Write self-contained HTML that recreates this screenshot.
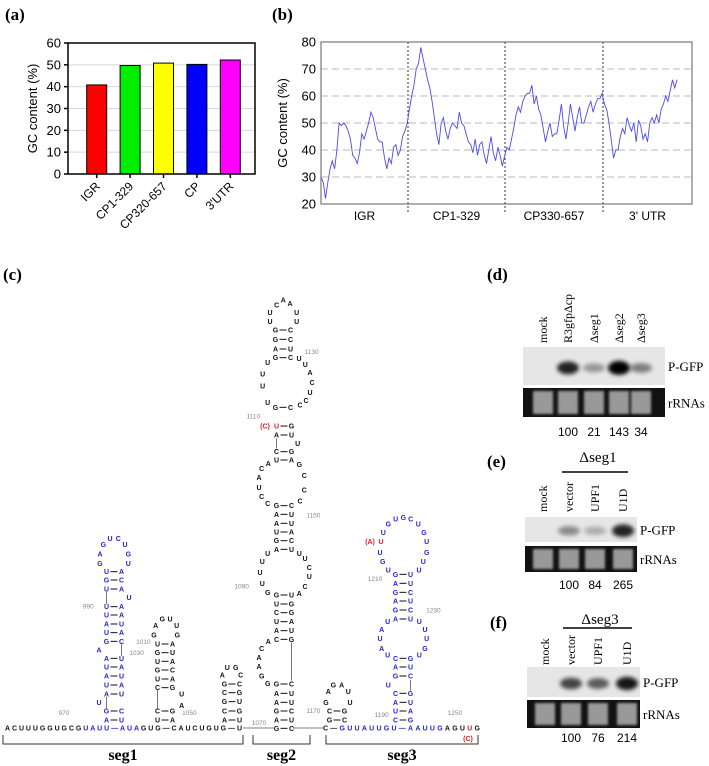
<!DOCTYPE html>
<html><head><meta charset="utf-8">
<style>
html,body{margin:0;padding:0;background:#fff;}
svg{display:block;}
.sans{font-family:"Liberation Sans",sans-serif;}
.serif{font-family:"Liberation Serif",serif;}
.nt{font-family:"Liberation Sans",sans-serif;font-size:7px;font-weight:bold;}
.num{font-family:"Liberation Sans",sans-serif;font-size:6.5px;fill:#888;}
</style></head>
<body>
<svg id="fig" width="709" height="766" viewBox="0 0 709 766" xmlns="http://www.w3.org/2000/svg">
<defs>
<filter id="blur2" x="-50%" y="-50%" width="200%" height="200%"><feGaussianBlur stdDeviation="2"/></filter>
<filter id="blur1" x="-50%" y="-50%" width="200%" height="200%"><feGaussianBlur stdDeviation="1.2"/></filter>
</defs>
<text x="5" y="20" class="serif" font-size="17" font-weight="bold">(a)</text>
<text x="272" y="20" class="serif" font-size="17" font-weight="bold">(b)</text>
<text x="3" y="280" class="serif" font-size="17" font-weight="bold">(c)</text>
<text x="487" y="280" class="serif" font-size="17" font-weight="bold">(d)</text>
<text x="487" y="467" class="serif" font-size="17" font-weight="bold">(e)</text>
<text x="490" y="628" class="serif" font-size="17" font-weight="bold">(f)</text>
<g id="pa"></g>
<g id="pb"></g>
<g id="pc"></g>
<g id="pd"></g>
</svg>
<script>
// ---- Panel (a) data ----
const aCategories = ['IGR','CP1-329','CP320-657','CP',"3'UTR"];
const aValues = [40.8, 49.7, 50.8, 50.2, 52.2];
const aTicks = [0,10,20,30,40,50,60];
// ---- Panel (b) data ----
const bSegments = ['IGR','CP1-329','CP330-657',"3' UTR"];
const bTicks = [20,30,40,50,60,70,80];
const bGrid = [30,40,50,60,70];
const bValues = [30,28,22,28,33,36,33,40,50,49,50,49,47,44,38,37,35,39,46,44,47,50,54,52,48,44,43,43,37,33,37,35,41,42,38,40,45,47,50,55,60,64,70,72,78,74,70,66,63,58,52,46,42,50,52,47,44,48,50,49,48,54,50,49,46,43,42,39,44,38,42,43,38,35,40,45,39,36,41,38,34,38,41,40,44,48,53,56,54,58,60,61,61,64,57,60,55,53,48,43,47,50,45,46,46,51,57,49,44,50,57,52,47,52,56,50,50,53,56,58,54,57,59,59,61,57,55,50,44,37,40,40,45,48,46,52,49,47,50,43,51,49,44,46,43,50,52,50,53,50,55,57,60,58,62,66,63,66];
// ---- Blot data ----
const dLanes = ['mock','R3gfpΔcp','Δseg1','Δseg2','Δseg3'];
const dBand = [0,0.85,0.35,1,0.45];
const dNums = ['','100','21','143','34'];
const eLanes = ['mock','vector','UPF1','U1D'];
const eBand = [0,0.4,0.25,0.85];
const eNums = ['','100','84','265'];
const fLanes = ['mock','vector','UPF1','U1D'];
const fBand = [0,0.7,0.6,0.9];
const fNums = ['','100','76','214'];

const NS='http://www.w3.org/2000/svg';
function mk(tag, attrs, parent, name){
  const e=document.createElementNS(NS,tag);
  for(const k in attrs) e.setAttribute(k,attrs[k]);
  
  
  parent.appendChild(e); return e;
}
function txt(parent,x,y,s,attrs,name){const e=mk('text',Object.assign({x:x,y:y},attrs||{}),parent,name);e.textContent=s;return e;}

// ===== Panel a =====
(function(){
const g=document.getElementById('pa');
const x0=68,x1=255,yTop=43,yBot=174;
const yA=v=>yBot-(v/60)*(yBot-yTop);
const step=(x1-x0-20)/aCategories.length;
const xA=i=>x0+12+step*(i+0.5);
const barColors=['#ff0000','#00ee00','#ffff00','#0000ff','#ff00ff'];
aTicks.forEach(t=>{
  if(t>0&&t<60) mk('line',{x1:x0,x2:x1,y1:yA(t),y2:yA(t),stroke:'#d8d8d8','stroke-width':1},g,'gridline');
  mk('line',{x1:x0-4,x2:x0,y1:yA(t),y2:yA(t),stroke:'#000','stroke-width':1.5},g,'y-tick');
  txt(g,x0-7,yA(t)+4.5,String(t),{'text-anchor':'end','font-size':13,class:'sans'},'y-tick-label');
});
aValues.forEach((v,i)=>{
  mk('rect',{x:xA(i)-10,y:yA(v),width:20,height:yBot-yA(v),fill:barColors[i],stroke:'#000','stroke-width':1},g,'bar-'+aCategories[i].toLowerCase().replace(/[^a-z0-9]/g,''));
  mk('line',{x1:xA(i),x2:xA(i),y1:yBot,y2:yBot+4,stroke:'#000','stroke-width':1.5},g,'x-tick');
  txt(g,0,0,aCategories[i],{'text-anchor':'end','font-size':12,class:'sans',transform:`translate(${xA(i)+4},${yBot+13}) rotate(-45)`},'x-tick-label');
});
mk('rect',{x:x0,y:yTop,width:x1-x0,height:yBot-yTop,fill:'none',stroke:'#000','stroke-width':1.5},g,'plot-frame');
txt(g,0,0,'GC content (%)',{'text-anchor':'middle','font-size':13,class:'sans',transform:`translate(37,${(yTop+yBot)/2}) rotate(-90)`},'y-axis-title');
})();

// ===== Panel b =====
(function(){
const g=document.getElementById('pb');
const x0=321,x1=692,yTop=42,yBot=204;
const yB=v=>yBot-(v-20)/60*(yBot-yTop);
const xB=i=>x0+i*(677-x0)/(bValues.length-1);
bGrid.forEach(t=>mk('line',{x1:x0,x2:x1,y1:yB(t),y2:yB(t),stroke:'#d0d0d0','stroke-width':1.5,'stroke-dasharray':'7,4'},g,'gridline'));
[408,505,603].forEach(x=>mk('line',{x1:x,x2:x,y1:yTop,y2:yBot+8,stroke:'#000','stroke-width':0.8,'stroke-dasharray':'2,2'},g,'segment-divider'));
const pts=bValues.map((v,i)=>xB(i).toFixed(1)+','+yB(v).toFixed(1)).join(' ');
mk('polyline',{points:pts,fill:'none',stroke:'#4a4af0','stroke-width':0.9},g,'gc-content-line');
mk('rect',{x:x0,y:yTop,width:x1-x0,height:yBot-yTop,fill:'none',stroke:'#777','stroke-width':1.2},g,'plot-frame');
bTicks.forEach(t=>txt(g,x0-5,yB(t)+4.5,String(t),{'text-anchor':'end','font-size':13,class:'sans'},'y-tick-label'));
const bounds=[x0,408,505,603,x1];
bSegments.forEach((s,i)=>txt(g,(bounds[i]+bounds[i+1])/2,220,s,{'text-anchor':'middle','font-size':12,class:'sans'},'x-segment-label'));
txt(g,0,0,'GC content (%)',{'text-anchor':'middle','font-size':13,class:'sans',transform:`translate(287,${(yTop+yBot)/2}) rotate(-90)`},'y-axis-title');
})();

// ===== Panel c (RNA structure) =====
(function(){
const g=document.getElementById('pc');
const B='#1f1fd0',K='#111',R='#e02020';
const z4=(x,y)=>[x/3,420+y/3];
const z5=(x,y)=>[230+x/3,250+y/3];
function L(p,s,c){txt(g,p[0],p[1]+2.5,s,{'text-anchor':'middle',class:'nt',fill:c},'nucleotide');}
function P(cx,y,l,r,c,lc,rc){
  txt(g,cx-7.5,y+2.5,l,{'text-anchor':'middle',class:'nt',fill:lc||c},'nucleotide');
  txt(g,cx+7.5,y+2.5,r,{'text-anchor':'middle',class:'nt',fill:rc||c},'nucleotide');
  mk('line',{x1:cx-3.5,x2:cx+3.5,y1:y,y2:y,stroke:K,'stroke-width':1},g,'base-pair');
}
function V(x,ya,yb){mk('line',{x1:x,x2:x,y1:ya,y2:yb,stroke:'#555','stroke-width':0.8},g,'backbone-line');}
function N(p,s){txt(g,p[0],p[1]+2.5,s,{class:'num','text-anchor':'middle'},'position-number');}
const s1=[[455,'U','A'],[480,'G','C'],[507,'U','A'],[560,'U','A'],[585,'U','A'],[612,'A','U'],[638,'U','A'],[664,'G','C'],[715,'A','U'],[741,'U','A'],[768,'A','U'],[795,'U','A'],[822,'A','U'],[873,'G','C'],[900,'A','U']];
s1.forEach(r=>P(114,420+r[0]/3,r[1],r[2],B));
[[310,373,'G'],[330,355,'U'],[355,355,'C'],[375,373,'U'],[300,402,'A'],[385,402,'G'],[300,430,'G'],[385,430,'U'],[387,533,'U'],[297,690,'A'],[297,847,'U']].forEach(a=>L(z4(a[0],a[1]),a[2],B));
V(106.5,420+515/3,420+553/3);V(121.5,420+672/3,420+708/3);V(106.5,420+830/3,420+866/3);
[[672,'U','A'],[698,'G','U'],[724,'U','A'],[750,'G','C'],[777,'U','A'],[803,'C','G'],[873,'C','G'],[900,'U','A']].forEach(r=>P(165,420+r[0]/3,r[1],r[2],K));
[[467,617,'A'],[487,597,'G'],[510,597,'U'],[530,617,'U'],[462,645,'G'],[532,645,'G'],[545,822,'U'],[545,857,'A']].forEach(a=>L(z4(a[0],a[1]),a[2],K));
V(157.5,420+810/3,420+866/3);
[[792,'G','C'],[818,'C','G'],[845,'G','U'],[873,'C','G'],[900,'A','U']].forEach(r=>P(232,420+r[0]/3,r[1],r[2],K));
[[667,765,'A'],[682,742,'U'],[707,742,'G'],[722,765,'C']].forEach(a=>L(z4(a[0],a[1]),a[2],K));
[[925,'G','C'],[900,'A','U'],[873,'G','C'],[847,'A','U'],[820,'A','U'],[792,'G','C'],[658,'C','G'],[632,'A','U'],[605,'U','A'],[578,'C','G'],[552,'U','G'],[525,'G','U'],[388,'A','U'],[362,'G','C'],[336,'U','A'],[310,'A','U'],[283,'A','U'],[257,'G','C'],[120,'U','A'],[95,'C','G'],[45,'A','U']].forEach(r=>P(284,420+r[0]/3,r[1],r[2],K));
P(284,420+18/3,'U','G',K,R,K);
txt(g,265,428.5,'(C)',{'text-anchor':'middle',class:'nt',fill:R,'font-weight':'normal'},'mutation-label');
[[803,790,'G'],[785,768,'G'],[777,740,'A'],[777,712,'A'],[785,685,'C'],[805,665,'A'],[803,518,'G'],[787,490,'U'],[780,457,'U'],[787,424,'U'],[803,400,'U'],[898,400,'U'],[915,415,'U'],[928,442,'C'],[928,470,'U'],[915,500,'C'],[898,520,'A'],[803,250,'C'],[900,243,'C'],[785,145,'C'],[805,130,'A'],[898,133,'G'],[777,173,'A'],[777,203,'U'],[785,230,'C'],[913,167,'C'],[913,210,'C'],[893,70,'U']].forEach(a=>L(z4(a[0],a[1]),a[2],K));
V(291.5,420+668/3,420+782/3);V(276.5,420+55/3,420+85/3);
[[472,'G','C'],[323,'G','C'],[297,'A','U'],[268,'G','C'],[240,'G','C']].forEach(r=>P(283,250+r[0]/3,r[1],r[2],K));
[[113,337,'U'],[98,372,'U'],[98,408,'U'],[113,458,'U'],[207,325,'U'],[226,343,'U'],[240,368,'A'],[246,397,'C'],[240,428,'U'],[228,452,'C'],[210,465,'C'],[120,215,'U'],[120,187,'U'],[140,165,'C'],[160,150,'A'],[180,160,'A'],[200,187,'U'],[200,215,'U']].forEach(a=>L(z5(a[0],a[1]),a[2],K));
[[873,'C','G'],[900,'G','C']].forEach(r=>P(337,420+r[0]/3,r[1],r[2],K));
[[978,847,'G'],[1050,847,'U'],[985,815,'A'],[1000,795,'G'],[1025,795,'A'],[1045,815,'U']].forEach(a=>L(z4(a[0],a[1]),a[2],K));
[[900,'C','G'],[873,'U','A'],[847,'A','U'],[820,'C','G'],[768,'G','C'],[741,'A','U'],[715,'C','G'],[597,'A','U'],[570,'G','C'],[543,'A','U'],[517,'G','C'],[490,'A','U'],[463,'G','U']].forEach(r=>P(403,420+r[0]/3,r[1],r[2],B));
[[1165,795,'U'],[1163,705,'U'],[1145,685,'A'],[1140,655,'U'],[1145,628,'A'],[1163,605,'U'],[1258,605,'U'],[1275,628,'U'],[1280,655,'U'],[1275,685,'G'],[1258,705,'U'],[1165,450,'U'],[1148,425,'G'],[1140,397,'U'],[1150,337,'U'],[1165,312,'G'],[1187,297,'U'],[1210,292,'G'],[1232,297,'C'],[1255,312,'U'],[1272,337,'G'],[1280,365,'U'],[1280,397,'G'],[1270,425,'U'],[1257,450,'U']].forEach(a=>L(z4(a[0],a[1]),a[2],B));
L(z4(1143,365),'U',R);
txt(g,370,544,'(A)',{'text-anchor':'middle',class:'nt',fill:R,'font-weight':'normal'},'mutation-label');
V(410.5,420+780/3,420+812/3);
const b1=mk('text',{x:5,y:730.5,class:'nt',textLength:237,lengthAdjust:'spacing'},g,'sequence-baseline-seg1');
[['ACUUUGGUGCG',K],['UAUU—AUA',B],['GUG—CAUCUGUG—U',K]].forEach(s=>{const t=document.createElementNS(NS,'tspan');t.setAttribute('fill',s[1]);t.textContent=s[0];b1.appendChild(t);});
const b3=mk('text',{x:323,y:730.5,class:'nt',textLength:157,lengthAdjust:'spacing'},g,'sequence-baseline-seg3');
[['C—',K],['GUUAUUGU—AAUUG',B],['AGU',K],['U',R],['G',K]].forEach(s=>{const t=document.createElementNS(NS,'tspan');t.setAttribute('fill',s[1]);t.textContent=s[0];b3.appendChild(t);});
mk('line',{x1:243,x2:275,y1:728,y2:728,stroke:'#555','stroke-width':0.8},g,'backbone-line');
mk('line',{x1:293,x2:324,y1:728,y2:728,stroke:'#555','stroke-width':0.8},g,'backbone-line');
txt(g,468,741,'(C)',{'text-anchor':'middle',class:'nt',fill:R,'font-weight':'normal'},'mutation-label');
[[192,878,'970'],[265,558,'990'],[430,664,'1010'],[410,697,'1030'],[568,878,'1050'],[777,907,'1070'],[725,498,'1090'],[940,285,'1150'],[940,872,'1170'],[1145,883,'1190'],[1125,475,'1210'],[1300,570,'1230'],[1365,878,'1250']].forEach(a=>N(z4(a[0],a[1]),a[2]));
N(z5(245,305),'1130');N(z5(70,498),'1110');
[[3,243,'seg1'],[253,310,'seg2'],[326,478,'seg3']].forEach(b=>{
  mk('path',{d:`M${b[0]},735 V744 H${b[1]} V735`,fill:'none',stroke:'#333','stroke-width':1},g,'bracket-'+b[2]);
  txt(g,(b[0]+b[1])/2,760,b[2],{'text-anchor':'middle',class:'serif','font-size':16,'font-weight':'bold'},b[2]+'-label');
});
})();

// ===== Blots =====
(function(){
const g=document.getElementById('pd');
function blot(lanes,band,nums,laneX,gx0,gx1,gy0,gy1,ry0,ry1,labelBottom,numY,tag){
  mk('rect',{x:gx0,y:gy0,width:gx1-gx0,height:gy1-gy0,fill:'#e6e6e6'},g,tag+'-pgfp-gel');
  mk('rect',{x:gx0,y:ry0,width:gx1-gx0,height:ry1-ry0,fill:'#111'},g,tag+'-rrna-gel');
  lanes.forEach((l,i)=>{
    const cx=laneX[i];
    txt(g,0,0,l,{class:'serif','font-size':12,transform:`translate(${cx+4},${labelBottom}) rotate(-90)`},tag+'-lane-label');
    if(band[i]>0) mk('ellipse',{cx:cx,cy:gy0+(gy1-gy0)*0.55,rx:11,ry:3+4*band[i],fill:'#000',opacity:band[i],filter:'url(#blur2)'},g,tag+'-band');
    mk('rect',{x:cx-10,y:ry0+3,width:20,height:ry1-ry0-6,fill:'#999',filter:'url(#blur1)'},g,tag+'-rrna-band');
    if(nums[i]) txt(g,cx,numY,nums[i],{'text-anchor':'middle',class:'sans','font-size':12},tag+'-quantification');
  });
  txt(g,gx1+3,(gy0+gy1)/2+5,'P-GFP',{class:'serif','font-size':13},tag+'-pgfp-label');
  txt(g,gx1+3,(ry0+ry1)/2+5,'rRNAs',{class:'serif','font-size':13},tag+'-rrna-label');
}
blot(dLanes,dBand,dNums,[543,568,594,619,641],523,665,347,385,388,417,343,436,'d');
blot(eLanes,eBand,eNums,[543,569,595,623],525,637,517,542,546,572,512,589,'e');
blot(fLanes,fBand,fNums,[545,571,598,627],527,640,667,697,700,728,665,742,'f');
txt(g,598,462,'Δseg1',{'text-anchor':'middle',class:'serif','font-size':15},'e-group-label');
mk('line',{x1:562,x2:628,y1:472,y2:472,stroke:'#000','stroke-width':1.5},g,'e-group-line');
txt(g,600,624,'Δseg3',{'text-anchor':'middle',class:'serif','font-size':15},'f-group-label');
mk('line',{x1:563,x2:632,y1:628,y2:628,stroke:'#000','stroke-width':1.5},g,'f-group-line');
})();
</script>
</body></html>
